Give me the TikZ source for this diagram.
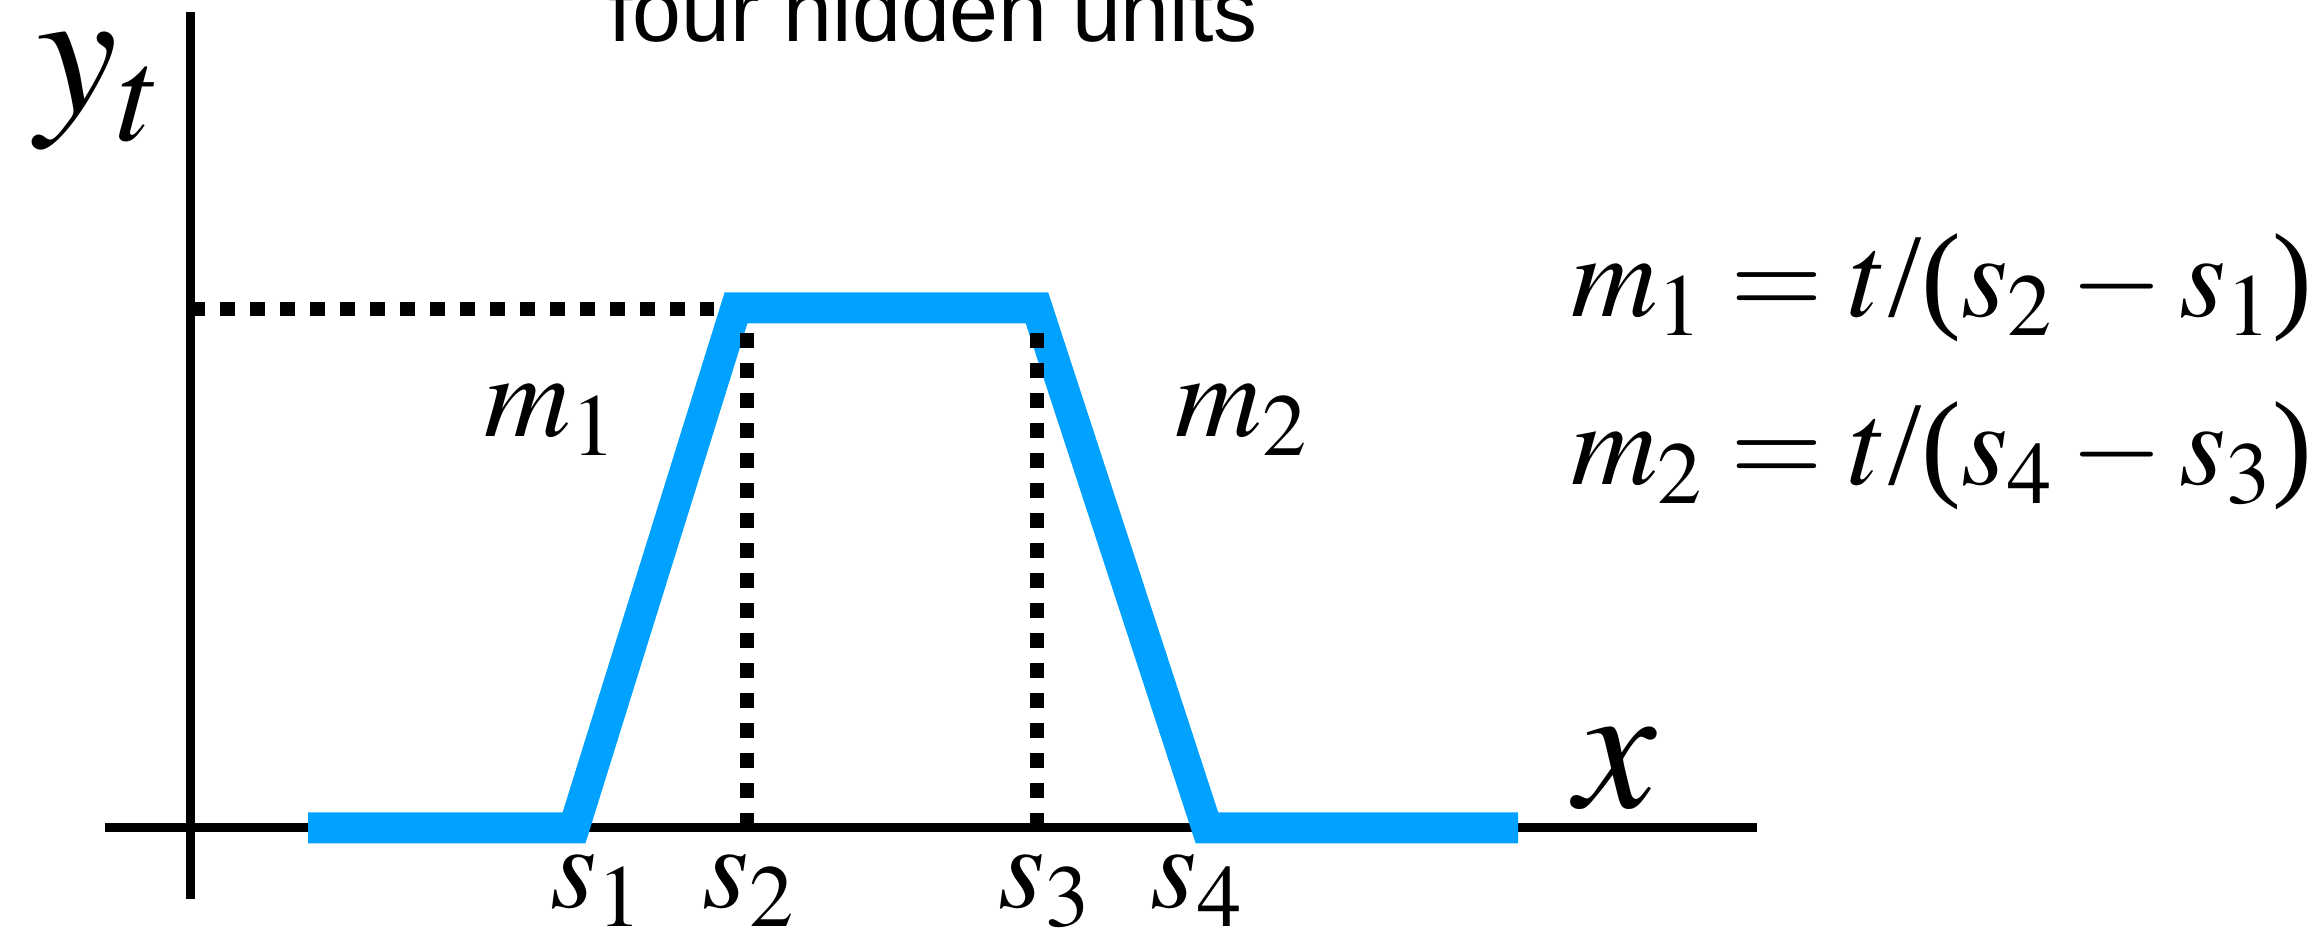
\documentclass[tikz,border=0pt]{standalone}
\usepackage{mathptmx}
\usepackage[no-math]{fontspec}
\setmainfont{Liberation Serif}
\newfontfamily\titlefont{Liberation Sans}
\usetikzlibrary{positioning}
\definecolor{unitblue}{RGB}{0,161,255}

\begin{document}
\begin{tikzpicture}
    % Estilos
    \tikzstyle{axis} = [draw, line width=0.09cm]
    \tikzstyle{curve} = [draw=unitblue, line width=0.31cm, line join=miter]
    \tikzstyle{guide} = [draw, line width=0.14cm, dash pattern=on 0.15cm off 0.15cm]
    \tikzstyle{biglabel} = [inner sep=0pt, font=\fontsize{52}{60}\selectfont]
    \tikzstyle{smalllabel} = [inner sep=0pt, font=\fontsize{34}{40}\selectfont]

    \useasboundingbox (0,0) rectangle (23.2,9.42);

    % --- Ejes ---
    \coordinate (ybot) at (1.90,0.43);
    \coordinate (ytop) at (1.90,9.30);
    \coordinate (xleft) at (1.05,1.14);
    \coordinate (xright) at (17.57,1.14);
    \draw[axis] (ybot) -- (ytop);
    \draw[axis] (xleft) -- (xright);

    % --- Trapecio (cuatro unidades) ---
    \coordinate (start) at (3.08,1.14);
    \coordinate (s1) at (5.74,1.14);
    \coordinate (s2top) at (7.36,6.34);
    \coordinate (s3top) at (10.37,6.34);
    \coordinate (s4) at (12.07,1.14);
    \coordinate (stop) at (15.18,1.14);

    % nivel t (punteado horizontal)
    \coordinate (level) at (1.90,6.33);
    \coordinate (levelend) at (7.14,6.33);
    \draw[guide] (level) -- (levelend);

    \draw[curve] (start) -- (s1) -- (s2top) -- (s3top) -- (s4) -- (stop);

    % punteados verticales
    \coordinate (s2) at (7.47,1.14);
    \coordinate (s2up) at (7.47,6.09);
    \coordinate (s3) at (10.37,1.14);
    \coordinate (s3up) at (10.37,6.09);
    \draw[guide] (s2) -- (s2up);
    \draw[guide] (s3) -- (s3up);

    % --- Etiquetas ---
    \node[anchor=base, inner sep=0pt, font=\titlefont\fontsize{25}{30}\selectfont] (title) at (9.33,9.00) {four hidden units};
    \node[biglabel, anchor=base west] (ylab) at (0.36,8.29) {$y_t$};
    \node[biglabel, anchor=base] (xlab) at (16.16,1.34) {$x$};

    \node[smalllabel, anchor=base] (s1lab) at (5.97,0.34) {$s_1$};
    \node[smalllabel, anchor=base] (s2lab) at (7.49,0.34) {$s_2$};
    \node[smalllabel, anchor=base] (s3lab) at (10.45,0.34) {$s_3$};
    \node[smalllabel, anchor=base] (s4lab) at (11.97,0.34) {$s_4$};

    \node[smalllabel, anchor=base] (m1lab) at (5.51,5.05) {$m_1$};
    \node[smalllabel, anchor=base] (m2lab) at (12.42,5.05) {$m_2$};

    % pendientes
    \node[smalllabel, anchor=base west] (eqa) at (15.71,6.25) {$m_1 = t\mbox{/(}s_2 - s_1\mbox{)}$};
    \node[smalllabel, below=1.68cm of eqa.base west, anchor=base west] (eqb) {$m_2 = t\mbox{/(}s_4 - s_3\mbox{)}$};

\end{tikzpicture}
\end{document}
